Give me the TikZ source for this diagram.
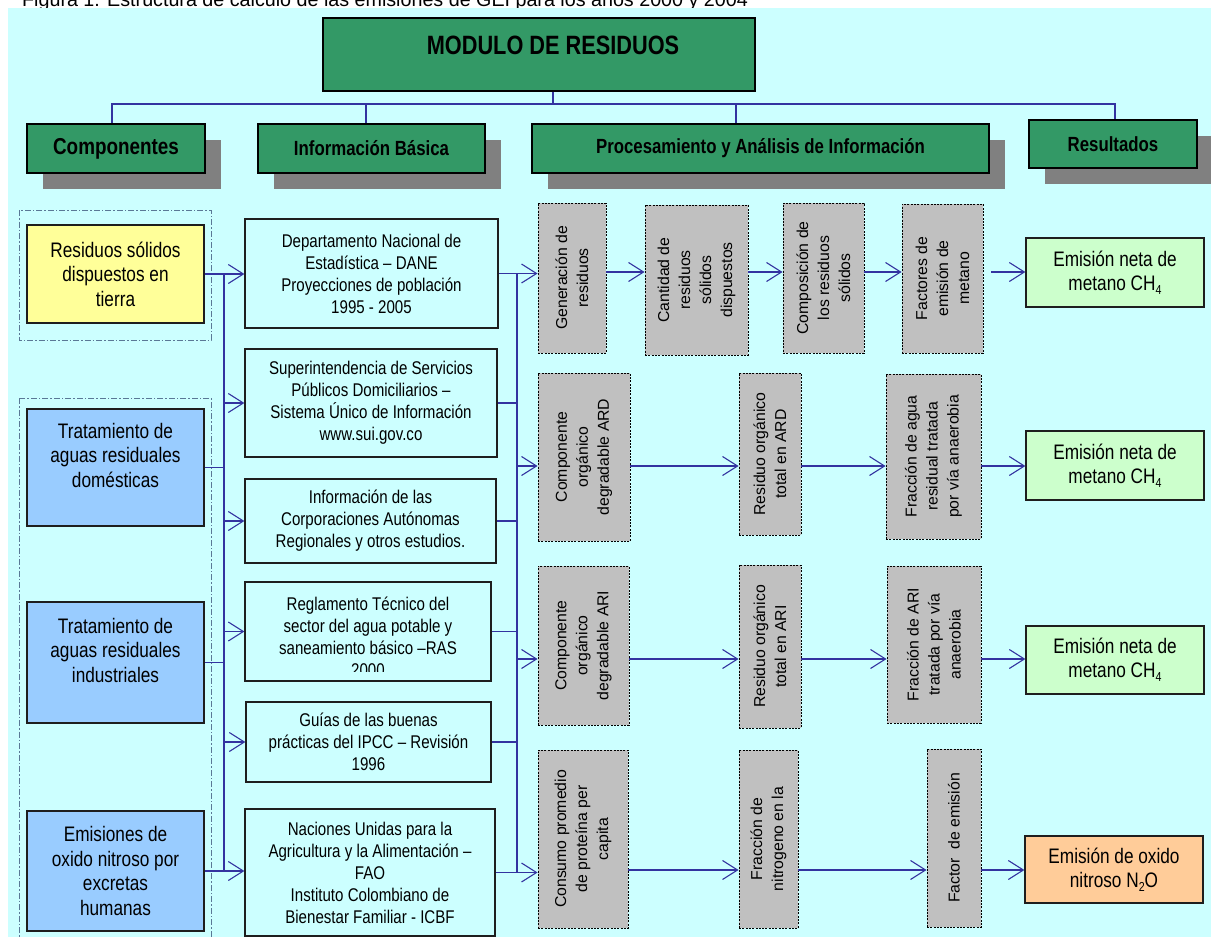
\documentclass[tikz,border=0pt]{standalone}
\usepackage{fontspec}
\setmainfont{Liberation Sans}
\newfontfamily\narrow[FakeStretch=0.82]{Liberation Sans}
\usetikzlibrary{arrows.meta,shadows}
\newcommand\myfs[2]{\fontsize{#1pt}{#2pt}\selectfont}
\newcommand\mysub[1]{\raisebox{-0.18em}{\fontsize{13pt}{13pt}\selectfont #1}}
\definecolor{bgc}{HTML}{CCFFFF}
\definecolor{hgreen}{HTML}{339966}
\definecolor{shgray}{HTML}{808080}
\definecolor{cYel}{HTML}{FFFF99}
\definecolor{cBlue}{HTML}{99CCFF}
\definecolor{cGray}{HTML}{C0C0C0}
\definecolor{cGreen}{HTML}{CCFFCC}
\definecolor{cOrange}{HTML}{FFCC99}
\definecolor{cConn}{HTML}{3333A0}
\definecolor{cFrame}{HTML}{5A7896}
\definecolor{cBord}{HTML}{1E1E1E}
\begin{document}
\begin{tikzpicture}[x=1pt,y=-1pt,
  wh/.style 2 args={minimum width=#1pt, minimum height=#2pt},
  hdr/.style={draw=black, line width=1.8pt, fill=hgreen, inner sep=0pt},
  hdrs/.style={hdr, general shadow={fill=shgray, draw=none, shadow xshift=16pt, shadow yshift=-16pt},
    font=\narrow\bfseries\myfs{20.5}{24}},
  compb/.style={draw=cBord, line width=1.3pt, align=center, inner sep=0pt, font=\narrow\myfs{21}{24.5}},
  info/.style={draw=cBord, line width=1.3pt, align=center, inner sep=0pt, font=\narrow\myfs{18.4}{22}},
  infot/.style={align=center, inner sep=0pt, font=\narrow\myfs{18.4}{22}},
  procb/.style={draw=black, dash pattern=on 2pt off 1.3pt, line width=0.9pt, fill=cGray, inner sep=0pt},
  rot/.style={rotate=90, align=center, inner sep=0pt, font=\myfs{15.8}{21}},
  emis/.style={draw=cBord, line width=1.3pt, align=center, inner sep=0pt, font=\narrow\myfs{21}{24}},
  frame/.style={draw=cFrame, line width=1pt, dash pattern=on 6pt off 2pt on 1.5pt off 2pt},
  conn/.style={draw=cConn, line width=1.1pt},
  arr/.style={conn, -{Straight Barb[length=15pt,width=19pt]}}
]
\useasboundingbox (0,0) rectangle (1211,937);
\clip (0,0) rectangle (1211,937);
% caption (cut at top) and background
\node[anchor=base west, inner sep=0pt, font=\myfs{19.7}{22}] (cap) at (22,6)
  {Figura 1. Estructura de cálculo de las emisiones de GEI para los años 2000 y 2004};
\fill[bgc] (8,8) rectangle (1211,937);

% title
\node[hdr, wh={432}{73}] (title) at (539,54.5) {};
\node[inner sep=0pt, font=\narrow\bfseries\myfs{26.5}{30}] (titletxt) at (553,45) {MODULO DE RESIDUOS};

% headers
\node[hdrs, wh={178}{49}, font=\narrow\bfseries\myfs{23}{26}] (comp) at (116,148.5) {Componentes};
\node[hdrs, wh={227}{49}] (infob) at (371.5,148.5) {Información Básica};
\node[hdrs, wh={457}{49}] (proc) at (760.5,148.5) {Procesamiento y Análisis de Información};
\node[hdrs, wh={168}{48}] (res) at (1113,144) {Resultados};

% header connectors
\coordinate (hL) at (112,104);
\coordinate (hR) at (1115,104);
\coordinate (tj) at (553,104);
\coordinate (vI) at (366,104);
\coordinate (vP) at (736,104);
\draw[conn] (tj |- title.south) -- (tj);
\draw[conn] (hL |- comp.north) -- (hL) -- (hR) -- (hR |- res.north);
\draw[conn] (vI) -- (vI |- infob.north);
\draw[conn] (vP) -- (vP |- proc.north);

% component frames
\draw[frame] (19,210) rectangle (211,340);
\draw[frame] (19,398) rectangle (211,945);

% components
\node[compb, fill=cYel, wh={177}{98}] (yel) at (115.5,274) {Residuos sólidos\\dispuestos en\\tierra};
\node[compb, fill=cBlue, wh={177}{117}] (blue1) at (115.5,467.5) {Tratamiento de\\aguas residuales\\domésticas\\\mbox{}};
\node[compb, fill=cBlue, wh={177}{121}] (blue2) at (115.5,662.5) {Tratamiento de\\aguas residuales\\industriales\\\mbox{}};
\node[compb, fill=cBlue, wh={177}{120}] (blue3) at (115.5,871) {Emisiones de\\oxido nitroso por\\excretas\\humanas};

% information boxes
\node[info, wh={253}{109}] (info1) at (371.5,273.5) {Departamento Nacional de\\Estadística – DANE\\Proyecciones de población\\1995 - 2005};
\node[info, wh={252}{108}] (info2) at (371,403) {Superintendencia de Servicios\\Públicos Domiciliarios –\\Sistema Único de Información\\www.sui.gov.co};
\node[info, wh={251}{84}] (info3) at (370.5,521) {Información de las\\Corporaciones Autónomas\\Regionales y otros estudios.};
\node[info, wh={246}{99}] (info4) at (368,631.5) {};
\begin{scope}
  \clip (247,584) rectangle (489,671);
  \node[infot] (info4t) at (368,636.5) {Reglamento Técnico del\\sector del agua potable y\\saneamiento básico –RAS\\2000};
\end{scope}
\node[info, wh={245}{80}] (info5) at (368.5,742) {Guías de las buenas\\prácticas del IPCC – Revisión\\1996};
\node[info, wh={250}{127}] (info6) at (370,872.5) {Naciones Unidas para la\\Agricultura y la Alimentación –\\FAO\\Instituto Colombiano de\\Bienestar Familiar - ICBF};

% process boxes row 1
\node[procb, wh={68}{150}] (gen) at (572,278) {};
\node[rot] (genT) at (gen) {Generación de\\residuos};
\node[procb, wh={103}{150}] (cant) at (696.5,280) {};
\begin{scope}
  \clip (645,205) rectangle (740,355);
  \node[rot] (cantT) at (cant) {Cantidad de\\residuos\\sólidos\\dispuestos};
\end{scope}
\node[procb, wh={81}{150}] (compo) at (823.5,278) {};
\node[rot] (compoT) at (compo) {Composición de\\los residuos\\sólidos};
\node[procb, wh={81}{149}] (fact) at (942.5,278.5) {};
\begin{scope}
  \clip (902,204) rectangle (975,353);
  \node[rot] (factT) at (fact) {Factores de\\emisión de\\metano};
\end{scope}

% row 2
\node[procb, wh={92}{168}] (ard1) at (584,457) {};
\node[rot] (ard1T) at (ard1) {Componente\\orgánico\\degradable ARD};
\node[procb, wh={62}{162}] (ard2) at (770,454) {};
\node[rot] (ard2T) at (ard2) {Residuo orgánico\\total en ARD};
\node[procb, wh={95}{165}] (ard3) at (933.5,456.5) {};
\node[rot] (ard3T) at (ard3) {Fracción de agua\\residual tratada\\por vía anaerobia};

% row 3
\node[procb, wh={91}{159}] (ari1) at (583.5,645.5) {};
\node[rot] (ari1T) at (ari1) {Componente\\orgánico\\degradable ARI};
\node[procb, wh={62}{163}] (ari2) at (770,646.5) {};
\node[rot] (ari2T) at (ari2) {Residuo orgánico\\total en ARI};
\node[procb, wh={94}{157}] (ari3) at (934,644.5) {};
\node[rot] (ari3T) at (ari3) {Fracción de ARI\\tratada por vía\\anaerobia};

% row 4
\node[procb, wh={90}{178}] (n1) at (583,839) {};
\node[rot] (n1T) at (n1) {Consumo promedio\\de proteína per\\capita};
\node[procb, wh={59}{178}] (n2) at (768.5,839) {};
\node[rot] (n2T) at (n2) {Fracción de\\nitrogeno en la};
\node[procb, wh={54}{178}] (n3) at (954,838) {};
\node[rot] (n3T) at (n3) {Factor\ \ de emisión};

% results
\node[emis, fill=cGreen, wh={178}{69}] (em1) at (1115,272.5) {Emisión neta de\\metano CH\mysub{4}};
\node[emis, fill=cGreen, wh={178}{69}] (em2) at (1115,465.5) {Emisión neta de\\metano CH\mysub{4}};
\node[emis, fill=cGreen, wh={178}{68}] (em3) at (1115,660) {Emisión neta de\\metano CH\mysub{4}};
\node[emis, fill=cOrange, wh={178}{67}] (em4) at (1114,869.5) {Emisión de oxido\\nitroso N\mysub{2}O};

% bus 1 : components -> information
\coordinate (bx1) at (224,0);
\coordinate (bx2) at (517,0);
\draw[conn] (bx1 |- yel.east) -- (bx1 |- blue3.east);
\draw[arr] (yel.east) -- (yel.east -| info1.west);
\draw[conn] (blue1.east) -- (blue1.east -| bx1);
\draw[conn] (blue2.east) -- (blue2.east -| bx1);
\draw[arr] (blue3.east) -- (blue3.east -| info6.west);
\foreach \n in {info2,info3,info4,info5}
  \draw[arr] (bx1 |- \n.west) -- (\n.west);

% bus 2 : information -> processing
\coordinate (r1) at (0,272);
\coordinate (r2) at (0,466);
\coordinate (r3) at (0,659);
\coordinate (r4) at (0,870);
\draw[conn] (bx2 |- info1.east) -- (bx2 |- info6.east);
\draw[arr] (info1.east) -- (info1.east -| gen.west);
\foreach \n in {info2,info3,info4,info5}
  \draw[conn] (\n.east) -- (\n.east -| bx2);
\draw[arr] (info6.east) -- (info6.east -| n1.west);
\draw[arr] (bx2 |- r2) -- (r2 -| ard1.west);
\draw[arr] (bx2 |- r3) -- (r3 -| ari1.west);

% row flows
\draw[arr] (gen.east |- r1) -- (cant.west |- r1);
\draw[arr] (cant.east |- r1) -- (compo.west |- r1);
\draw[arr] (compo.east |- r1) -- (fact.west |- r1);
\draw[arr, shorten <=8pt] (fact.east |- r1) -- (em1.west |- r1);
\draw[arr] (ard1.east |- r2) -- (ard2.west |- r2);
\draw[arr] (ard2.east |- r2) -- (ard3.west |- r2);
\draw[arr] (ard3.east |- r2) -- (em2.west |- r2);
\draw[arr] (ari1.east |- r3) -- (ari2.west |- r3);
\draw[arr] (ari2.east |- r3) -- (ari3.west |- r3);
\draw[arr] (ari3.east |- r3) -- (em3.west |- r3);
\draw[arr] (n1.east |- r4) -- (n2.west |- r4);
\draw[arr] (n2.east |- r4) -- (n3.west |- r4);
\draw[arr] (n3.east |- r4) -- (em4.west |- r4);
\end{tikzpicture}
\end{document}
